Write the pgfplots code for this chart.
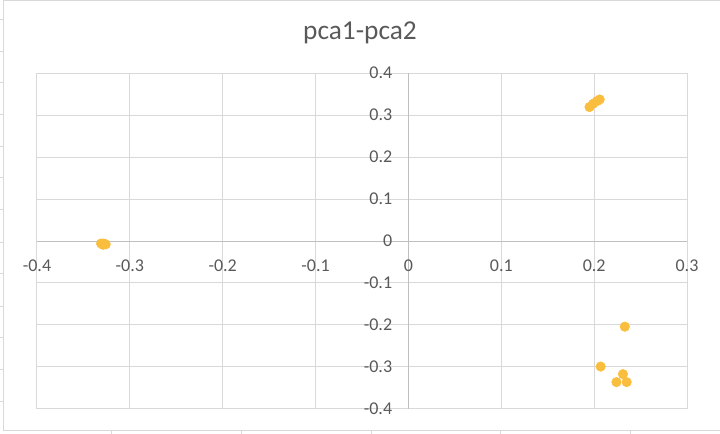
\documentclass[border=0pt]{standalone}
\usepackage{fontspec}
\setmainfont{Carlito}
\usepackage{pgfplots}
\pgfplotsset{compat=1.18}
\definecolor{dot}{RGB}{250,190,62}
\definecolor{gridc}{RGB}{217,217,217}
\definecolor{axc}{RGB}{191,191,191}
\definecolor{txt}{RGB}{89,89,89}
\begin{document}
\begin{tikzpicture}
\useasboundingbox (0,0) rectangle (540pt,325.5pt);
\draw[gridc, line width=0.75pt] (540pt,324.75pt) -- (2.25pt,324.75pt) -- (2.25pt,2.25pt) -- (540pt,2.25pt);
\foreach \y in {20,52,83,115,147,178,210,243,274,307,338,370,402}
  \draw[gridc, line width=0.75pt] (0pt,{(434-\y)*0.75pt}) -- (2.25pt,{(434-\y)*0.75pt});
\foreach \x in {111,241,371,500,630}
  \draw[gridc, line width=0.75pt] ({\x*0.75pt},2.25pt) -- ({\x*0.75pt},0pt);
\node[font=\fontsize{20.5}{24}\selectfont, text=txt] at (270pt,300.75pt) {pca1-pca2};
\begin{axis}[
  at={(27.75pt,18.75pt)}, anchor=south west, scale only axis,
  width=487.5pt, height=252pt,
  xmin=-0.4, xmax=0.3, ymin=-0.4, ymax=0.4,
  axis lines=middle, axis line style={axc, line width=0.75pt, -},
  xtick={-0.4,-0.3,-0.2,-0.1,0,0.1,0.2,0.3},
  ytick={-0.4,-0.3,-0.2,-0.1,0,0.1,0.2,0.3,0.4},
  grid=major, major grid style={gridc, line width=0.75pt},
  major tick length=0pt,
  tick label style={font=\fontsize{13.5}{16}\selectfont, text=txt},
  /pgf/number format/assume math mode=true,
  xticklabel style={anchor=center, yshift=-18.75pt, inner sep=0pt},
  yticklabel style={anchor=east, xshift=-12pt, inner sep=0pt},
  clip=false,
]
\addplot[only marks, mark=*, mark size=3.56pt, mark options={fill=dot, draw=dot}] coordinates {
  (-0.331,-0.006) (-0.329,-0.009) (-0.328,-0.006) (-0.326,-0.008)
  (0.195,0.319) (0.199,0.327) (0.203,0.333) (0.206,0.337)
  (0.233,-0.204) (0.207,-0.299) (0.231,-0.317) (0.224,-0.336) (0.235,-0.336)
};
\node[anchor=center, yshift=-18.75pt, inner sep=0pt, font=\fontsize{13.5}{16}\selectfont, text=txt] at (axis cs:0,0) {0};
\node[anchor=east, xshift=-12pt, inner sep=0pt, font=\fontsize{13.5}{16}\selectfont, text=txt] at (axis cs:0,0) {0};
\end{axis}
\end{tikzpicture}
\end{document}
